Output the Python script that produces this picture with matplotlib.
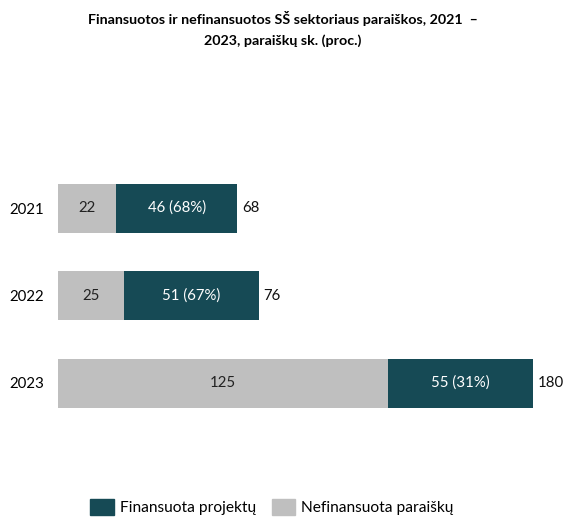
import numpy as np
import matplotlib.pyplot as plt
from matplotlib.patches import Patch

plt.rcParams["font.family"] = ["Lato", "DejaVu Sans"]

years = ["2021", "2022", "2023"]
nefinansuota = [22, 25, 125]
finansuota = [46, 51, 55]
shares = [68, 67, 31]
totals = [68, 76, 180]

c_fin = "#164a55"
c_nef = "#bfbfbf"

W, H = 566, 520
fig = plt.figure(figsize=(W / 100, H / 100), dpi=100)

# axes placed in pixel coords: x 58..550, y 138..453
ax = fig.add_axes([58 / W, 1 - 453 / H, (550 - 58) / W, (453 - 138) / H])

y = np.arange(len(years))
bh = 0.56
fs = 10.8
ax.barh(y, nefinansuota, height=bh, color=c_nef, label="Nefinansuota paraiškų")
ax.barh(y, finansuota, left=nefinansuota, height=bh, color=c_fin,
        label="Finansuota projektų")

for i in range(len(years)):
    ax.text(nefinansuota[i] / 2, y[i], str(nefinansuota[i]), ha="center",
            va="center", fontsize=fs, color="#222222")
    ax.text(nefinansuota[i] + finansuota[i] / 2, y[i],
            f"{finansuota[i]} ({shares[i]}%)", ha="center", va="center",
            fontsize=fs, color="white")
    ax.text(totals[i] + 1.8, y[i], str(totals[i]), ha="left", va="center",
            fontsize=fs, color="#111111")

ax.set_xlim(0, (550 - 58) / 2.639)
ax.set_ylim(2.8, -0.8)
ax.set_yticks(y)
ax.set_yticklabels(years, fontsize=fs)
ax.set_xticks([])
ax.tick_params(axis="y", length=0, pad=10)
for s in ax.spines.values():
    s.set_visible(False)

fig.text(0.5, 1 - 19 / H, "Finansuotos ir nefinansuotos SŠ sektoriaus paraiškos, 2021  –",
         ha="center", va="center", fontsize=10.3, fontweight="bold")
fig.text(0.5, 1 - 41 / H, "2023, paraiškų sk. (proc.)",
         ha="center", va="center", fontsize=10.3, fontweight="bold")

handles = [Patch(color=c_fin, label="Finansuota projektų"),
           Patch(color=c_nef, label="Nefinansuota paraiškų")]
fig.legend(handles=handles, loc="center", bbox_to_anchor=(272 / W, 1 - 507 / H),
           ncol=2, frameon=False, fontsize=11.2, handlelength=1.5,
           handleheight=1.2, columnspacing=1.0, handletextpad=0.4)

fig.savefig("out.png", dpi=100)
